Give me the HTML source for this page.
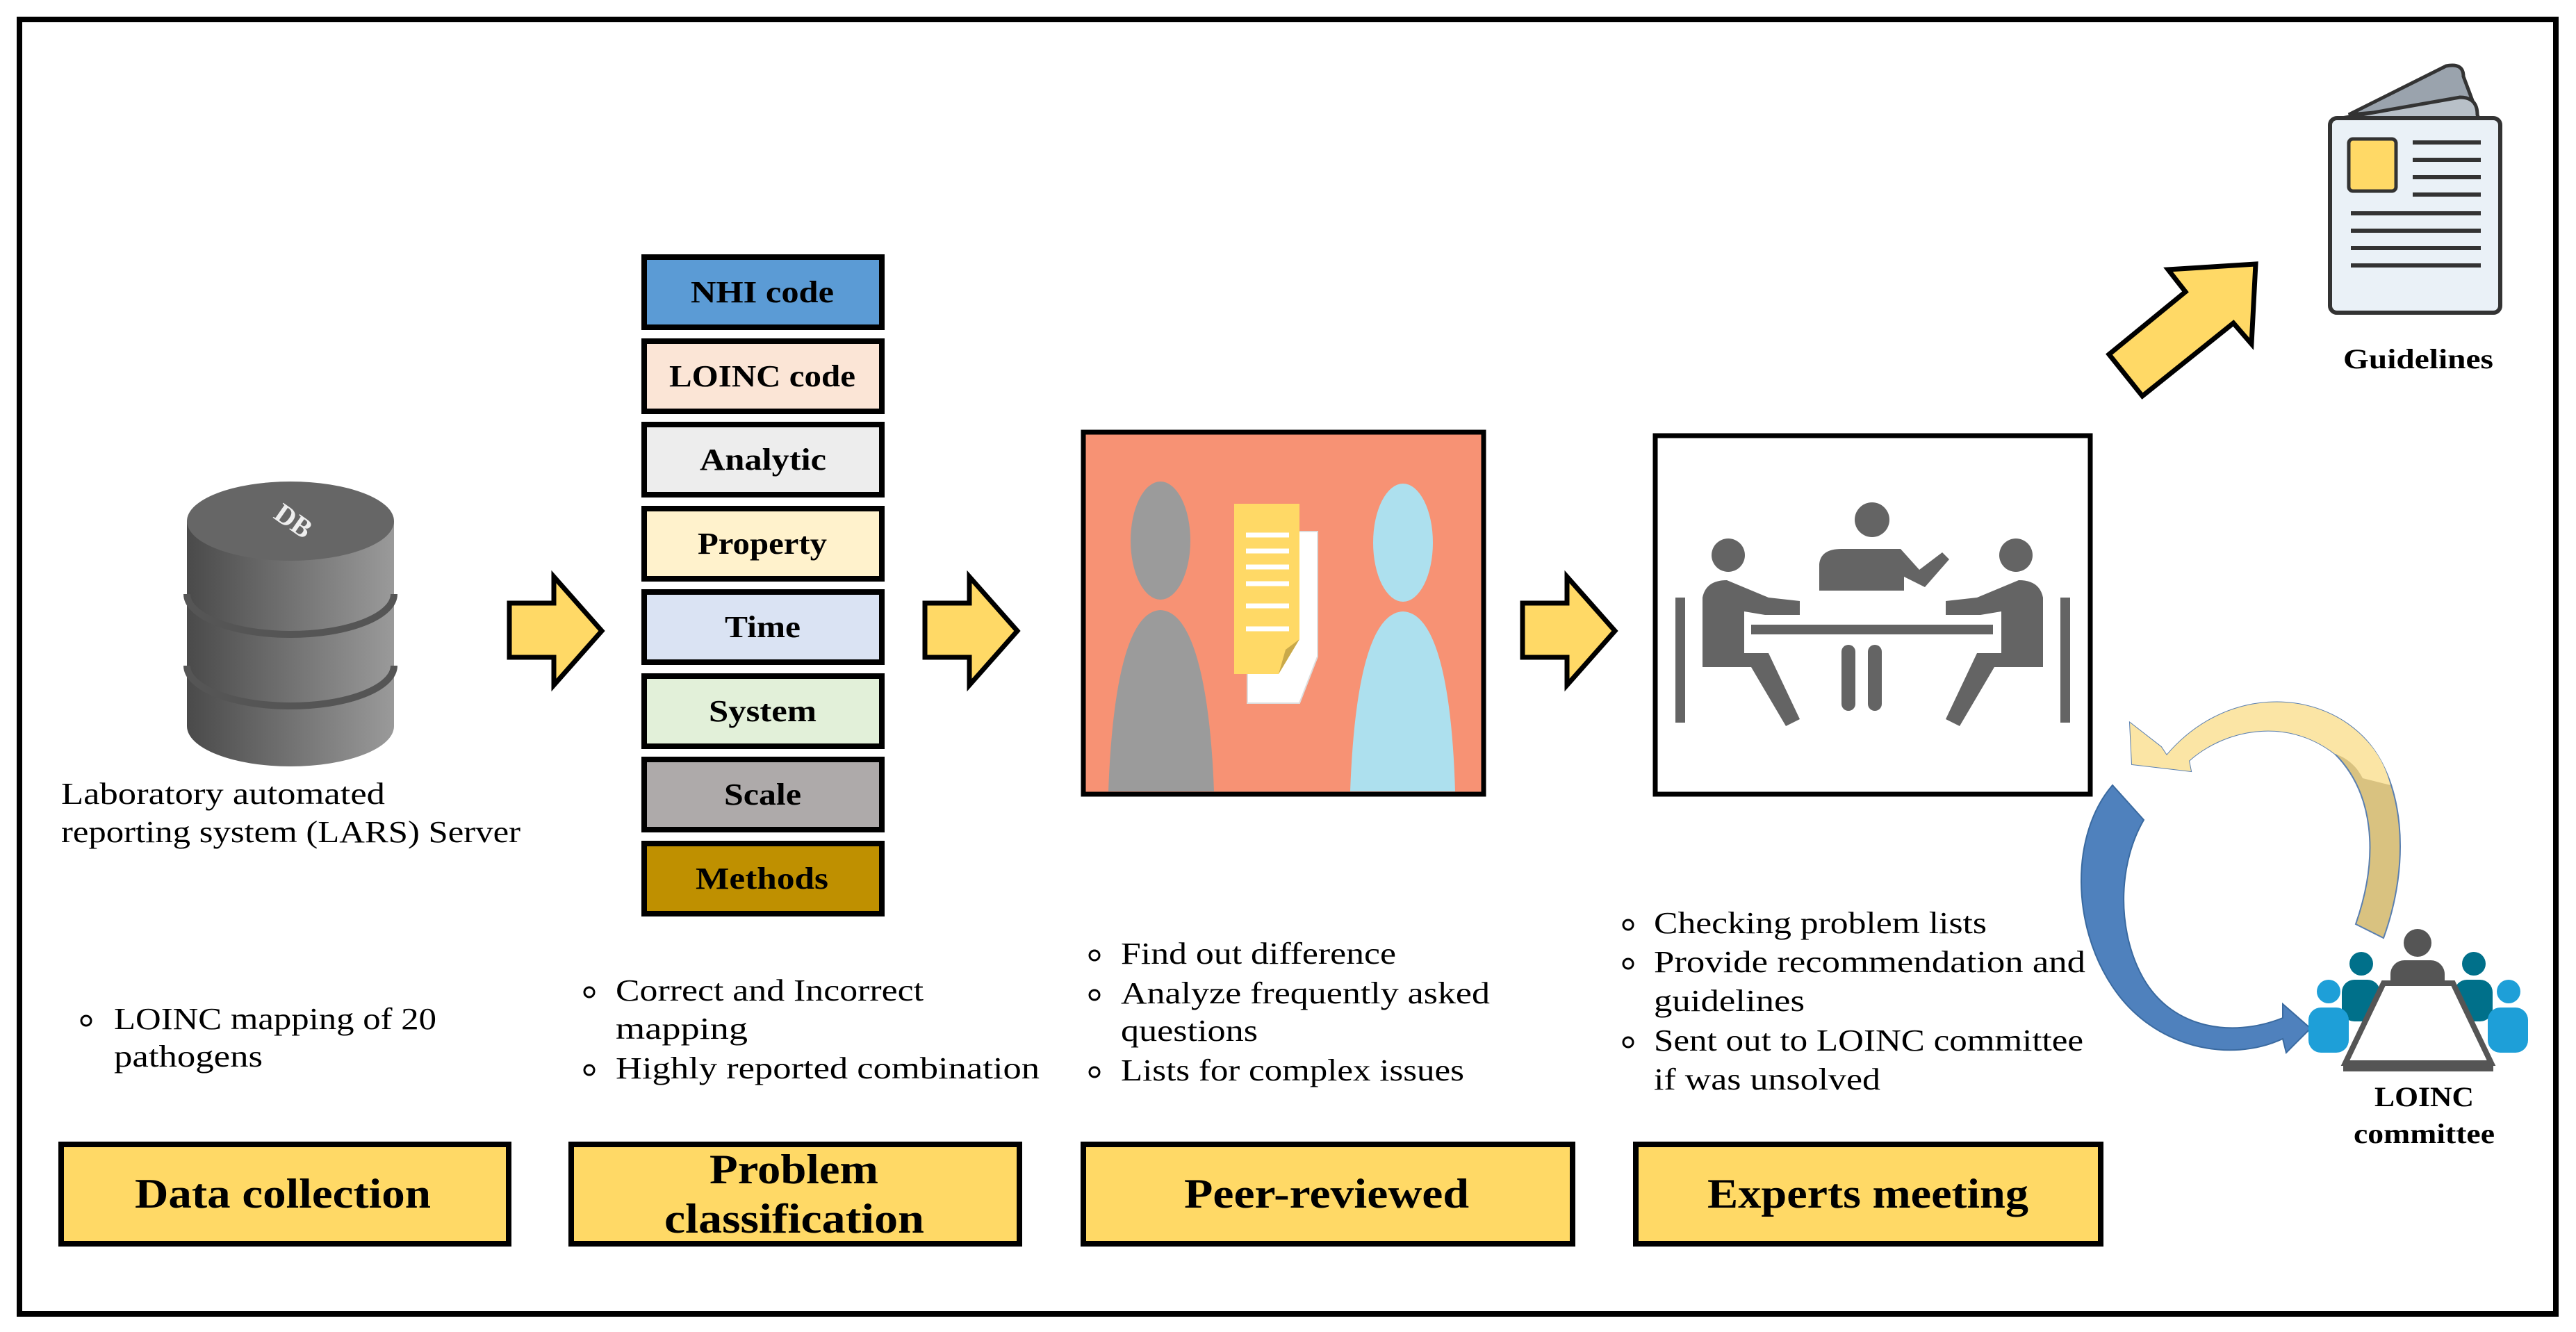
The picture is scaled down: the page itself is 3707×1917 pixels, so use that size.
<!DOCTYPE html>
<html><head><meta charset="utf-8"><style>
html,body{margin:0;padding:0;background:#fff}
svg{display:block;font-family:"Liberation Serif","DejaVu Serif",serif}
svg text{font-family:"Liberation Serif","DejaVu Serif",serif}
.b{font-weight:bold}
</style></head><body>
<svg width="3707" height="1917" viewBox="0 0 3707 1917" xmlns="http://www.w3.org/2000/svg" font-family="Liberation Serif, DejaVu Serif, serif">
<defs>
<linearGradient id="db" x1="0" x2="1" y1="0" y2="0"><stop offset="0" stop-color="#4a4a4a"/><stop offset="1" stop-color="#9a9a9a"/></linearGradient>
</defs>
<rect x="28" y="28" width="3650" height="1863" fill="#fff" stroke="#000" stroke-width="8"/>

<!-- Database -->
<g>
<path d="M269 1045 L269 750 L567 750 L567 1045 A149 58 0 0 1 269 1045Z" fill="url(#db)"/>
<ellipse cx="418" cy="750" rx="149" ry="57" fill="#666"/>
<path d="M269 855 A149 58 0 0 0 567 855" stroke="#555" stroke-width="10" fill="none"/>
<path d="M269 958 A149 58 0 0 0 567 958" stroke="#555" stroke-width="10" fill="none"/>
<text x="395" y="755" font-size="40" fill="#eee" class="b" transform="rotate(35 410 745)" font-family="Liberation Sans, sans-serif">DB</text>
</g>
<text x="88" y="1157" font-size="44" textLength="466" lengthAdjust="spacingAndGlyphs">Laboratory automated</text>
<text x="88" y="1212" font-size="44" textLength="661" lengthAdjust="spacingAndGlyphs">reporting system (LARS) Server</text>

<!-- bullets -->
<g font-size="44">
<circle cx="124" cy="1469" r="7" fill="none" stroke="#000" stroke-width="3"/>
<text x="164" y="1481" textLength="464" lengthAdjust="spacingAndGlyphs">LOINC mapping of 20</text>
<text x="164" y="1535" textLength="214" lengthAdjust="spacingAndGlyphs">pathogens</text>

<circle cx="848" cy="1428" r="7" fill="none" stroke="#000" stroke-width="3"/>
<text x="886" y="1440" textLength="443" lengthAdjust="spacingAndGlyphs">Correct and Incorrect</text>
<text x="886" y="1495" textLength="190" lengthAdjust="spacingAndGlyphs">mapping</text>
<circle cx="848" cy="1540" r="7" fill="none" stroke="#000" stroke-width="3"/>
<text x="886" y="1552" textLength="610" lengthAdjust="spacingAndGlyphs">Highly reported combination</text>

<circle cx="1575" cy="1375" r="7" fill="none" stroke="#000" stroke-width="3"/>
<text x="1613" y="1387" textLength="396" lengthAdjust="spacingAndGlyphs">Find out difference</text>
<circle cx="1575" cy="1432" r="7" fill="none" stroke="#000" stroke-width="3"/>
<text x="1613" y="1444" textLength="531" lengthAdjust="spacingAndGlyphs">Analyze frequently asked</text>
<text x="1613" y="1498" textLength="197" lengthAdjust="spacingAndGlyphs">questions</text>
<circle cx="1575" cy="1543" r="7" fill="none" stroke="#000" stroke-width="3"/>
<text x="1613" y="1555" textLength="494" lengthAdjust="spacingAndGlyphs">Lists for complex issues</text>

<circle cx="2343" cy="1331" r="7" fill="none" stroke="#000" stroke-width="3"/>
<text x="2380" y="1343" textLength="479" lengthAdjust="spacingAndGlyphs">Checking problem lists</text>
<circle cx="2343" cy="1387" r="7" fill="none" stroke="#000" stroke-width="3"/>
<text x="2380" y="1399" textLength="621" lengthAdjust="spacingAndGlyphs">Provide recommendation and</text>
<text x="2380" y="1455" textLength="217" lengthAdjust="spacingAndGlyphs">guidelines</text>
<circle cx="2343" cy="1500" r="7" fill="none" stroke="#000" stroke-width="3"/>
<text x="2380" y="1512" textLength="618" lengthAdjust="spacingAndGlyphs">Sent out to LOINC committee</text>
<text x="2380" y="1568" textLength="326" lengthAdjust="spacingAndGlyphs">if was unsolved</text>
</g>

<!-- stack -->
<g stroke="#000" stroke-width="8">
<rect x="927" y="370" width="342" height="101" fill="#5B9BD5"/>
<rect x="927" y="491" width="342" height="101" fill="#FBE5D6"/>
<rect x="927" y="611" width="342" height="101" fill="#EDEDED"/>
<rect x="927" y="732" width="342" height="101" fill="#FFF2CC"/>
<rect x="927" y="852" width="342" height="101" fill="#DAE3F3"/>
<rect x="927" y="973" width="342" height="101" fill="#E2F0D9"/>
<rect x="927" y="1093" width="342" height="101" fill="#AEAAAA"/>
<rect x="927" y="1214" width="342" height="101" fill="#BF9000"/>
</g>
<g font-size="44" class="b" lengthAdjust="spacingAndGlyphs">
<text x="994" y="435" textLength="206" lengthAdjust="spacingAndGlyphs">NHI code</text>
<text x="963" y="556" textLength="268" lengthAdjust="spacingAndGlyphs">LOINC code</text>
<text x="1007" y="676" textLength="182" lengthAdjust="spacingAndGlyphs">Analytic</text>
<text x="1004" y="797" textLength="186" lengthAdjust="spacingAndGlyphs">Property</text>
<text x="1043" y="917" textLength="109" lengthAdjust="spacingAndGlyphs">Time</text>
<text x="1020" y="1038" textLength="155" lengthAdjust="spacingAndGlyphs">System</text>
<text x="1042" y="1158" textLength="111" lengthAdjust="spacingAndGlyphs">Scale</text>
<text x="1001" y="1279" textLength="191" lengthAdjust="spacingAndGlyphs">Methods</text>
</g>

<!-- arrows -->
<g fill="#FFD966" stroke="#000" stroke-width="7" stroke-linejoin="miter">
<path d="M733 868 L797 868 L797 830 L866 908 L797 986 L797 946 L733 946Z"/>
<path d="M1331 868 L1395 868 L1395 830 L1464 908 L1395 986 L1395 946 L1331 946Z"/>
<path d="M2191 868 L2255 868 L2255 830 L2324 908 L2255 986 L2255 946 L2191 946Z"/>
<path d="M3035 510 L3145 420 L3120 388 L3246 380 L3240 495 L3214 465 L3083 570Z"/>
</g>

<!-- peer picture -->
<rect x="1559" y="622" width="576" height="521" fill="#F79274" stroke="#000" stroke-width="7"/>
<ellipse cx="1670" cy="778" rx="43" ry="85" fill="#9b9b9b"/>
<path d="M1595 1139 C1600 1000 1620 880 1670 878 C1720 880 1742 1000 1747 1139Z" fill="#9b9b9b"/>
<ellipse cx="2019" cy="781" rx="43" ry="85" fill="#ADE0EE"/>
<path d="M1943 1139 C1948 1000 1968 882 2019 880 C2070 882 2090 1000 2094 1139Z" fill="#ADE0EE"/>
<path d="M1795 765 L1896 765 L1896 945 L1870 1012 L1795 1012Z" fill="#fff" stroke="#ddd" stroke-width="2"/>
<path d="M1776 725 L1870 725 L1870 920 L1840 970 L1776 970Z" fill="#FFD966"/>
<path d="M1840 970 L1850 935 L1870 920Z" fill="#c9a94a"/>
<g stroke="#fff" stroke-width="7"><line x1="1793" y1="770" x2="1855" y2="770"/><line x1="1793" y1="793" x2="1855" y2="793"/><line x1="1793" y1="816" x2="1855" y2="816"/><line x1="1793" y1="840" x2="1855" y2="840"/><line x1="1793" y1="872" x2="1855" y2="872"/><line x1="1793" y1="905" x2="1855" y2="905"/></g>

<!-- experts box -->
<rect x="2382" y="627" width="626" height="516" fill="#fff" stroke="#000" stroke-width="7"/>
<g fill="#646464" stroke="#646464">
<circle cx="2694" cy="748" r="25" stroke="none"/>
<path d="M2618 850 L2618 812 Q2620 790 2650 790 L2735 790 L2762 820 L2795 795 L2805 805 L2770 845 L2740 830 L2740 850Z" stroke="none"/>
<rect x="2650" y="928" width="20" height="95" rx="10" stroke="none"/>
<rect x="2688" y="928" width="20" height="95" rx="10" stroke="none"/>
<line x1="2520" y1="906" x2="2868" y2="906" stroke-width="14"/>
<circle cx="2487" cy="799" r="24" stroke="none"/>
<path d="M2450 950 L2450 860 Q2455 835 2485 835 L2545 860 L2590 865 L2590 885 L2540 885 L2510 880 L2510 940 L2545 940 L2590 1035 L2570 1045 L2520 960 L2450 960Z" stroke="none"/>
<line x1="2418" y1="860" x2="2418" y2="1040" stroke-width="14"/>
<circle cx="2901" cy="799" r="24" stroke="none"/>
<path d="M2940 950 L2940 860 Q2935 835 2905 835 L2845 860 L2800 865 L2800 885 L2850 885 L2880 880 L2880 940 L2845 940 L2800 1035 L2820 1045 L2870 960 L2940 960Z" stroke="none"/>
<line x1="2972" y1="860" x2="2972" y2="1040" stroke-width="14"/>
</g>

<!-- guidelines icon -->
<path d="M3380 165 L3520 95 Q3545 90 3545 110 L3560 150Z" fill="#9aa3ad" stroke="#333" stroke-width="5"/>
<path d="M3370 170 L3540 140 Q3565 140 3565 165 L3570 180Z" fill="#b8c0c8" stroke="#333" stroke-width="5"/>
<rect x="3353" y="170" width="245" height="280" rx="10" fill="#EAF1F7" stroke="#333" stroke-width="6"/>
<rect x="3380" y="200" width="68" height="75" rx="6" fill="#FFD966" stroke="#333" stroke-width="5"/>
<g stroke="#333" stroke-width="6"><line x1="3472" y1="205" x2="3570" y2="205"/><line x1="3472" y1="230" x2="3570" y2="230"/><line x1="3472" y1="255" x2="3570" y2="255"/><line x1="3472" y1="280" x2="3570" y2="280"/><line x1="3383" y1="307" x2="3570" y2="307"/><line x1="3383" y1="332" x2="3570" y2="332"/><line x1="3383" y1="357" x2="3570" y2="357"/><line x1="3383" y1="382" x2="3570" y2="382"/></g>
<text x="3372" y="530" font-size="40" class="b" textLength="216" lengthAdjust="spacingAndGlyphs">Guidelines</text>

<!-- circular arrows -->
<path d="M3118 1087 C3200 990 3330 990 3400 1060 C3460 1120 3470 1240 3430 1350 L3390 1330 C3425 1230 3415 1140 3360 1085 C3290 1030 3200 1050 3150 1095 L3153 1110 L3068 1100 L3065 1040 L3110 1075Z" fill="#D9C280" stroke="#5a7fb0" stroke-width="2"/>
<path d="M3118 1087 C3200 990 3330 990 3400 1060 C3420 1080 3432 1100 3440 1130 L3400 1120 C3390 1100 3375 1090 3360 1085 C3290 1030 3200 1050 3150 1095 L3153 1110 L3068 1100 L3065 1040 L3110 1075Z" fill="#FBE5A5"/>
<path d="M3040 1130 C2980 1200 2980 1330 3040 1420 C3100 1510 3210 1530 3285 1495 L3290 1515 L3325 1480 L3285 1445 L3285 1465 C3210 1495 3120 1480 3080 1400 C3045 1330 3050 1240 3085 1180Z" fill="#4F81BD" stroke="#3a6aa0" stroke-width="2"/>

<!-- LOINC committee icon -->
<g>
<circle cx="3479" cy="1357" r="20" fill="#555"/>
<rect x="3440" y="1382" width="78" height="70" rx="20" fill="#555"/>
<circle cx="3398" cy="1387" r="17" fill="#00708a"/>
<rect x="3370" y="1410" width="55" height="60" rx="18" fill="#00708a"/>
<circle cx="3560" cy="1387" r="17" fill="#00708a"/>
<rect x="3532" y="1410" width="55" height="60" rx="18" fill="#00708a"/>
<circle cx="3351" cy="1427" r="17" fill="#1E9FD8"/>
<rect x="3322" y="1450" width="58" height="65" rx="18" fill="#1E9FD8"/>
<circle cx="3610" cy="1427" r="17" fill="#1E9FD8"/>
<rect x="3580" y="1450" width="58" height="65" rx="18" fill="#1E9FD8"/>
<path d="M3430 1415 L3530 1415 L3585 1530 L3375 1530Z" fill="#fff" stroke="#555" stroke-width="8"/>
<rect x="3372" y="1530" width="216" height="12" fill="#555"/>
</g>
<text x="3417" y="1592" font-size="40" class="b" textLength="143" lengthAdjust="spacingAndGlyphs">LOINC</text>
<text x="3387" y="1645" font-size="40" class="b" textLength="203" lengthAdjust="spacingAndGlyphs">committee</text>

<!-- bottom boxes -->
<g fill="#FFD966" stroke="#000" stroke-width="8">
<rect x="88" y="1647" width="644" height="143"/>
<rect x="822" y="1647" width="645" height="143"/>
<rect x="1559" y="1647" width="704" height="143"/>
<rect x="2354" y="1647" width="669" height="143"/>
</g>
<g font-size="60" class="b">
<text x="194" y="1738" textLength="426" lengthAdjust="spacingAndGlyphs">Data collection</text>
<text x="1021" y="1703" textLength="243" lengthAdjust="spacingAndGlyphs">Problem</text>
<text x="956" y="1774" textLength="374" lengthAdjust="spacingAndGlyphs">classification</text>
<text x="1704" y="1738" textLength="410" lengthAdjust="spacingAndGlyphs">Peer-reviewed</text>
<text x="2457" y="1738" textLength="462" lengthAdjust="spacingAndGlyphs">Experts meeting</text>
</g>
</svg>
</body></html>
